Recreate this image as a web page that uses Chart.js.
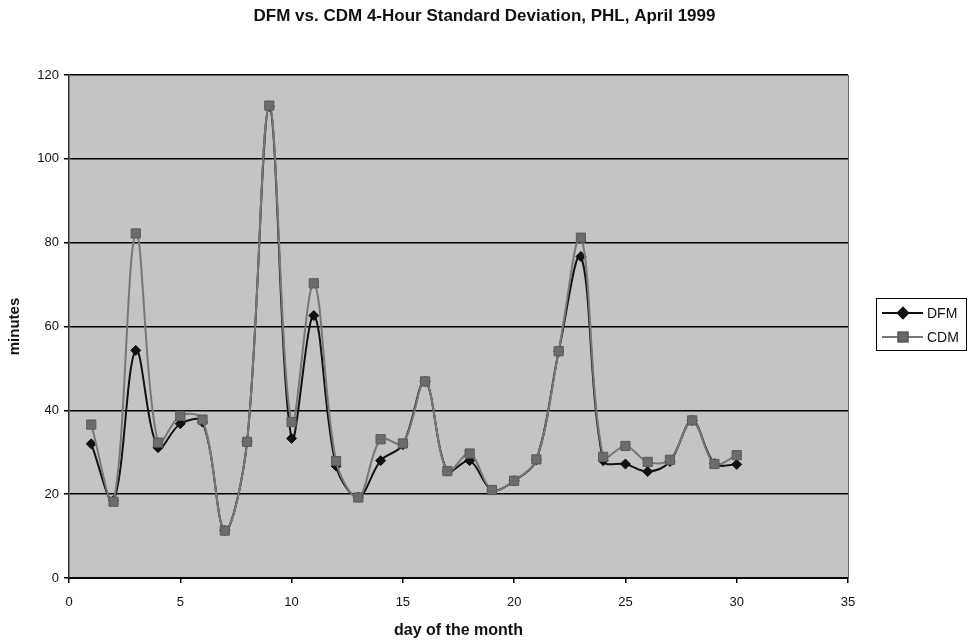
<!DOCTYPE html>
<html>
<head>
<meta charset="utf-8">
<title>DFM vs. CDM 4-Hour Standard Deviation, PHL, April 1999</title>
<script src="https://cdn.jsdelivr.net/npm/chart.js@4.4.0/dist/chart.umd.min.js"></script>
<style>
  html, body { margin: 0; padding: 0; background: #ffffff; }
  #wrap { width: 969px; height: 640px; }
</style>
</head>
<body>
<div id="wrap"><canvas id="sdChart" width="969" height="640"></canvas></div>
<script>
// Daily 4-hour standard deviation (minutes), April 1999
const days = [1, 2, 3, 4, 5, 6, 7, 8, 9, 10, 11, 12, 13, 14, 15,
              16, 17, 18, 19, 20, 21, 22, 23, 24, 25, 26, 27, 28, 29, 30];
const dfmMinutes = [32, 18.5, 54.3, 31.1, 36.8, 37.2, 11.3, 32.5, 112.5, 33.3, 62.6, 26.7, 19.3, 28, 31.8,
                    46.9, 25.5, 28, 21, 23.2, 28.2, 54, 76.7, 28, 27.2, 25.4, 27.8, 37.6, 27.3, 27.1];
const cdmMinutes = [36.6, 18.2, 82.2, 32.3, 38.7, 37.8, 11.3, 32.5, 112.7, 37.2, 70.3, 27.9, 19.2, 33.1, 32.1,
                    46.9, 25.5, 29.7, 21, 23.2, 28.3, 54.1, 81.2, 28.9, 31.5, 27.7, 28.2, 37.6, 27.2, 29.3];
const xTicks = [0, 5, 10, 15, 20, 25, 30, 35];
const yTicks = [0, 20, 40, 60, 80, 100, 120];

const FONT = "'Liberation Sans', Arial, sans-serif";
Chart.defaults.font.family = FONT;
Chart.defaults.color = '#111111';

// Grey plot background behind the lines
const plotBackground = {
  id: 'plotBackground',
  afterLayout(chart) {
    // centre the title over the whole canvas, not just the padded area
    chart.titleBlock.left = 0;
    chart.titleBlock.right = chart.width;
  },
  beforeDraw(chart) {
    const { ctx, chartArea: a } = chart;
    ctx.save();
    ctx.fillStyle = '#c4c4c4';
    ctx.fillRect(a.left, a.top, a.right - a.left, a.bottom - a.top);
    ctx.strokeStyle = '#6a6a6a';
    ctx.lineWidth = 1;
    ctx.beginPath();
    ctx.moveTo(a.right + 0.5, a.top);
    ctx.lineTo(a.right + 0.5, a.bottom);
    ctx.stroke();
    ctx.restore();
  }
};

// Boxed legend to the right of the plot
const boxedLegend = {
  id: 'boxedLegend',
  afterDraw(chart) {
    const { ctx, chartArea: a } = chart;
    const left = a.right + 28;
    const top = a.top + 223;
    const width = 90;
    const height = 52;
    ctx.save();
    ctx.strokeStyle = '#000000';
    ctx.lineWidth = 1;
    ctx.strokeRect(left + 0.5, top + 0.5, width, height);
    const rows = chart.data.datasets.slice().sort((p, q) => p.legendIndex - q.legendIndex);
    rows.forEach((ds, i) => {
      const y = top + 15 + i * 24;
      ctx.strokeStyle = ds.borderColor;
      ctx.lineWidth = ds.borderWidth;
      ctx.beginPath();
      ctx.moveTo(left + 6, y);
      ctx.lineTo(left + 47, y);
      ctx.stroke();
      Chart.helpers.drawPoint(ctx, {
        pointStyle: ds.pointStyle,
        radius: ds.pointRadius,
        borderWidth: 1
      }, left + 27, y);
      ctx.fillStyle = ds.pointBackgroundColor;
      ctx.strokeStyle = ds.pointBorderColor;
      ctx.fill();
      ctx.stroke();
      ctx.fillStyle = '#111111';
      ctx.font = '14px ' + FONT;
      ctx.textBaseline = 'middle';
      ctx.fillText(ds.label, left + 51, y + 1);
    });
    ctx.restore();
  }
};

const toPoints = values => days.map((d, i) => ({ x: d, y: values[i] }));

new Chart(document.getElementById('sdChart'), {
  type: 'line',
  data: {
    datasets: [
      {
        label: 'DFM',
        legendIndex: 0,
        order: 1,
        data: toPoints(dfmMinutes),
        borderColor: '#111111',
        borderWidth: 2,
        pointStyle: 'rectRot',
        pointRadius: 5,
        pointBackgroundColor: '#111111',
        pointBorderColor: '#111111',
        pointBorderWidth: 1,
        tension: 0.35
      },
      {
        label: 'CDM',
        legendIndex: 1,
        order: 0,
        data: toPoints(cdmMinutes),
        borderColor: '#777777',
        borderWidth: 2,
        pointStyle: 'rect',
        pointRadius: 6.5,
        pointBackgroundColor: '#6c6c6c',
        pointBorderColor: '#5a5a5a',
        pointBorderWidth: 1,
        tension: 0.35
      }
    ]
  },
  options: {
    responsive: false,
    devicePixelRatio: 1,
    animation: false,
    layout: { padding: { left: 0, right: 121, top: 0, bottom: 0 } },
    plugins: {
      legend: { display: false },
      tooltip: { enabled: false },
      title: {
        display: true,
        text: 'DFM vs. CDM 4-Hour Standard Deviation, PHL, April 1999',
        color: '#111111',
        font: { size: 17, weight: 'bold' },
        padding: { top: 6, bottom: 48.6 }
      }
    },
    scales: {
      x: {
        type: 'linear',
        min: xTicks[0],
        max: xTicks[xTicks.length - 1],
        afterBuildTicks: scale => { scale.ticks = xTicks.map(v => ({ value: v })); },
        afterFit: scale => { scale.height = 62; },
        grid: { drawOnChartArea: false, drawTicks: true, tickLength: 5, color: '#000000', lineWidth: 1.5 },
        border: { color: '#000000', width: 2 },
        ticks: { color: '#111111', font: { size: 13 }, padding: 12, maxRotation: 0 },
        title: {
          display: true,
          text: 'day of the month',
          color: '#111111',
          font: { size: 16, weight: 'bold' },
          padding: { top: 2, bottom: 0 }
        }
      },
      y: {
        min: yTicks[0],
        max: yTicks[yTicks.length - 1],
        afterBuildTicks: scale => { scale.ticks = yTicks.map(v => ({ value: v })); },
        afterFit: scale => { scale.width = 69; },
        grid: { color: '#000000', lineWidth: 1.5, drawTicks: true, tickLength: 5 },
        border: { color: '#333333', width: 1.5 },
        ticks: { color: '#111111', font: { size: 13 }, padding: 5 },
        title: {
          display: true,
          text: 'minutes',
          color: '#111111',
          font: { size: 15, weight: 'bold' },
          padding: { top: 6, bottom: 0 }
        }
      }
    }
  },
  plugins: [plotBackground, boxedLegend]
});
</script>
</body>
</html>
